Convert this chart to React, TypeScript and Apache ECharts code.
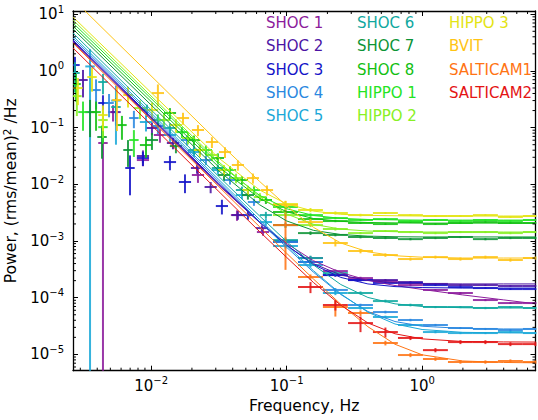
import React, { useEffect, useRef } from 'react';
import * as echarts from 'echarts';

const NAMES = ['SHOC 1', 'SHOC 2', 'SHOC 3', 'SHOC 4', 'SHOC 5', 'SHOC 6', 'SHOC 7', 'SHOC 8', 'HIPPO 1', 'HIPPO 2', 'HIPPO 3', 'BVIT', 'SALTICAM1', 'SALTICAM2'];
const COLORS = ['#8c1c9c', '#4c14a4', '#1414c8', '#2a88e0', '#1aa8d8', '#10a8a0', '#0c9436', '#12c012', '#24e424', '#88f024', '#e4e414', '#ffc414', '#ff7414', '#e41414'];

const X_MIN = 0.00265;
const X_MAX = 6.87;
const Y_MIN = 5.16e-6;
const Y_MAX = 11.4;

const MINOR_X = [0.003, 0.004, 0.005, 0.006, 0.007, 0.008, 0.009, 0.02, 0.03, 0.04, 0.05, 0.06, 0.07, 0.08, 0.09, 0.2, 0.3, 0.4, 0.5, 0.6, 0.7, 0.8, 0.9, 2, 3, 4, 5, 6];
const MINOR_Y = [6e-6, 7e-6, 8e-6, 9e-6, 2e-5, 3e-5, 4e-5, 5e-5, 6e-5, 7e-5, 8e-5, 9e-5, 2e-4, 3e-4, 4e-4, 5e-4, 6e-4, 7e-4, 8e-4, 9e-4, 0.002, 0.003, 0.004, 0.005, 0.006, 0.007, 0.008, 0.009, 0.02, 0.03, 0.04, 0.05, 0.06, 0.07, 0.08, 0.09, 0.2, 0.3, 0.4, 0.5, 0.6, 0.7, 0.8, 0.9, 2, 3, 4, 5, 6, 7, 8, 9];

// model curves: frequency grid and power values per instrument
const MODEL_F = [0.00265, 0.0316, 0.0631, 0.1, 0.158, 0.251, 0.398, 0.631, 1.0, 1.995, 3.98, 6.92];
const SHOC1_MODEL = [3.24, 0.0096, 0.00214, 0.000904, 0.000449, 0.000278, 0.000203, 0.000164, 0.00014, 0.000112, 9.16e-5, 7.8e-5];
const SHOC2_MODEL = [3.37, 0.00991, 0.00213, 0.000836, 0.000399, 0.000251, 0.000201, 0.000184, 0.000177, 0.000175, 0.000175, 0.000175];
const SHOC3_MODEL = [3.51, 0.01033, 0.00219, 0.000843, 0.000382, 0.000228, 0.000175, 0.000157, 0.000151, 0.000148, 0.000148, 0.000148];
const SHOC4_MODEL = [3.8, 0.01119, 0.00221, 0.000776, 0.000281, 0.000114, 5.71e-5, 3.8e-5, 3.14e-5, 2.87e-5, 2.81e-5, 2.81e-5];
const SHOC5_MODEL = [4.13, 0.01216, 0.0024, 0.000838, 0.000299, 0.000117, 5.55e-5, 3.44e-5, 2.75e-5, 2.45e-5, 2.4e-5, 2.38e-5];
const SHOC6_MODEL = [4.66, 0.01371, 0.00277, 0.000982, 0.000378, 0.000171, 0.000101, 7.8e-5, 7.0e-5, 6.65e-5, 6.58e-5, 6.58e-5];
const SHOC7_MODEL = [5.48, 0.0173, 0.00437, 0.00226, 0.00154, 0.0013, 0.00122, 0.00119, 0.00118, 0.00118, 0.00118, 0.00118];
const SHOC8_MODEL = [6.19, 0.0202, 0.00566, 0.00328, 0.00249, 0.00222, 0.00212, 0.00209, 0.00207, 0.00207, 0.00207, 0.00207];
const HIPPO1_MODEL = [7.0, 0.0229, 0.0064, 0.00371, 0.00282, 0.00251, 0.0024, 0.00236, 0.00234, 0.00234, 0.00234, 0.00234];
const HIPPO2_MODEL = [7.91, 0.0248, 0.00604, 0.003, 0.00197, 0.00162, 0.0015, 0.00146, 0.00144, 0.00144, 0.00144, 0.00144];
const HIPPO3_MODEL = [8.93, 0.029, 0.00796, 0.00451, 0.00337, 0.00296, 0.00283, 0.00279, 0.00276, 0.00276, 0.00276, 0.00276];
const BVIT_MODEL = [18.5, 0.0546, 0.01127, 0.00417, 0.00174, 0.000923, 0.000643, 0.00055, 0.000518, 0.000501, 0.000501, 0.000501];
const SALT1_MODEL = [3.09, 0.0091, 0.00179, 0.000608, 0.000213, 7.67e-5, 3.08e-5, 1.51e-5, 9.84e-6, 7.66e-6, 7.21e-6, 7.11e-6];
const SALT2_MODEL = [2.54, 0.00746, 0.00147, 0.000515, 0.000185, 7.38e-5, 3.59e-5, 2.31e-5, 1.88e-5, 1.69e-5, 1.66e-5, 1.65e-5];

// data points: [frequency Hz, bin half-width (dex), power, 1-sigma error]
const SHOC1_PTS = [
  [0.00441, 0.035, 0.0535, 0.056], [0.00523, 0.035, 0.188, 0.06], [0.0087, 0.045, 0.0268, 0.006],
  [0.01161, 0.045, 0.0741, 0.02], [0.02216, 0.045, 0.0146, 0.004], [0.043, 0.045, 0.00287, 0.0006],
  [0.0669, 0.045, 0.00144, 0.0002], [0.15, 0.092, 0.000501, 4e-5], [0.229, 0.092, 0.000295, 2e-5],
  [0.351, 0.092, 0.000222, 1.2e-5], [0.536, 0.092, 0.000197, 9e-6], [0.82, 0.092, 0.000167, 7e-6],
  [1.254, 0.092, 0.000137, 5e-6], [1.918, 0.092, 0.000121, 5e-6], [2.932, 0.092, 9.1e-5, 4e-6],
  [4.485, 0.092, 8.05e-5, 3e-6], [6.86, 0.092, 8.05e-5, 3e-6],
];
const SHOC2_PTS = [
  [0.00314, 0.035, 0.691, 0.35], [0.0055, 0.035, 0.188, 0.08], [0.0087, 0.045, 0.0316, 0.008],
  [0.01014, 0.045, 0.0985, 0.025], [0.01449, 0.045, 0.0535, 0.012], [0.0218, 0.045, 0.0194, 0.004],
  [0.0275, 0.045, 0.00896, 0.002], [0.0437, 0.045, 0.00287, 0.0005], [0.0657, 0.045, 0.00169, 0.0002],
  [0.0981, 0.092, 0.00096, 8e-5], [0.15, 0.092, 0.000426, 3e-5], [0.229, 0.092, 0.000251, 1.5e-5],
  [0.351, 0.092, 0.000205, 1e-5], [0.536, 0.092, 0.000205, 8e-6], [0.82, 0.092, 0.000189, 7e-6],
  [1.254, 0.092, 0.000175, 6e-6], [1.918, 0.092, 0.000167, 6e-6], [2.932, 0.092, 0.000167, 6e-6],
  [4.485, 0.092, 0.000161, 5e-6], [6.86, 0.092, 0.000161, 5e-6],
];
const SHOC3_PTS = [
  [0.00274, 0.035, 1.27, 0.5], [0.00441, 0.035, 0.272, 0.1], [0.00698, 0.035, 0.0194, 0.013],
  [0.0087, 0.045, 0.0291, 0.008], [0.01377, 0.045, 0.0247, 0.007], [0.01777, 0.045, 0.01098, 0.004],
  [0.0333, 0.045, 0.00414, 0.0012], [0.0518, 0.045, 0.00287, 0.0005], [0.0981, 0.092, 0.001, 9e-5],
  [0.15, 0.092, 0.000426, 3e-5], [0.229, 0.092, 0.000251, 1.5e-5], [0.351, 0.092, 0.000205, 1e-5],
  [0.536, 0.092, 0.000182, 7e-6], [0.82, 0.092, 0.000182, 6e-6], [1.254, 0.092, 0.000167, 6e-6],
  [1.918, 0.092, 0.000154, 5e-6], [2.932, 0.092, 0.000148, 5e-6], [4.485, 0.092, 0.000142, 5e-6],
  [6.86, 0.092, 0.000142, 5e-6],
];
const SHOC4_PTS = [
  [0.00392, 0.035, 0.46, 0.25], [0.00489, 0.035, 0.272, 0.12], [0.00746, 0.035, 0.1476, 0.05],
  [0.01122, 0.045, 0.1067, 0.03], [0.01838, 0.045, 0.0604, 0.012], [0.02537, 0.045, 0.0268, 0.005],
  [0.0382, 0.045, 0.0119, 0.002], [0.0574, 0.045, 0.00487, 0.0007], [0.0981, 0.092, 0.00096, 9e-5],
  [0.15, 0.092, 0.000426, 4e-5], [0.229, 0.092, 0.000137, 1.1e-5], [0.351, 0.092, 7.43e-5, 4e-6],
  [0.536, 0.092, 5.59e-5, 3e-6], [0.82, 0.092, 4.04e-5, 2e-6], [1.254, 0.092, 3.3e-5, 1.5e-6],
  [1.918, 0.092, 2.92e-5, 1.2e-6], [2.932, 0.092, 2.81e-5, 1.2e-6], [4.485, 0.092, 2.69e-5, 1e-6],
  [6.86, 0.092, 2.81e-5, 1e-6],
];
const SHOC5_PTS = [
  [0.00354, 0.035, 1.2, 1.22], [0.0055, 0.035, 0.3, 0.25], [0.00916, 0.045, 0.1255, 0.04],
  [0.01377, 0.045, 0.0741, 0.018], [0.0207, 0.045, 0.0371, 0.007], [0.0311, 0.045, 0.0179, 0.003],
  [0.0468, 0.045, 0.00647, 0.001], [0.0703, 0.045, 0.00216, 0.0003], [0.0981, 0.092, 0.000817, 8e-5],
  [0.15, 0.092, 0.000377, 3.5e-5], [0.229, 0.092, 0.000121, 1e-5], [0.351, 0.092, 6.58e-5, 4e-6],
  [0.536, 0.092, 4.57e-5, 2.5e-6], [0.82, 0.092, 3.3e-5, 1.6e-6], [1.254, 0.092, 2.48e-5, 1.2e-6],
  [1.918, 0.092, 2.38e-5, 1e-6], [2.932, 0.092, 2.38e-5, 1e-6], [4.485, 0.092, 2.48e-5, 1e-6],
  [6.86, 0.092, 2.38e-5, 1e-6],
];
const SHOC6_PTS = [
  [0.00274, 0.035, 0.918, 0.5], [0.00441, 0.035, 0.637, 0.25], [0.0055, 0.035, 0.231, 0.1],
  [0.00931, 0.045, 0.204, 0.05], [0.01377, 0.045, 0.0985, 0.02], [0.0207, 0.045, 0.0403, 0.008],
  [0.0311, 0.045, 0.0194, 0.003], [0.0468, 0.045, 0.00793, 0.0012], [0.0703, 0.045, 0.00287, 0.0004],
  [0.0981, 0.092, 0.00104, 0.00012], [0.15, 0.092, 0.000501, 5e-5], [0.229, 0.092, 0.000272, 2.5e-5],
  [0.351, 0.092, 0.000121, 8e-6], [0.536, 0.092, 8.73e-5, 5e-6], [0.82, 0.092, 7.43e-5, 4e-6],
  [1.254, 0.092, 6.85e-5, 3e-6], [1.918, 0.092, 6.85e-5, 3e-6], [2.932, 0.092, 6.58e-5, 3e-6],
  [4.485, 0.092, 6.85e-5, 3e-6], [6.86, 0.092, 6.58e-5, 3e-6],
];
const SHOC7_PTS = [
  [0.00354, 0.035, 0.188, 0.12], [0.00434, 0.035, 0.0683, 0.04], [0.00675, 0.035, 0.0403, 0.02],
  [0.01014, 0.045, 0.0604, 0.02], [0.01524, 0.045, 0.0473, 0.012], [0.0229, 0.045, 0.0403, 0.008],
  [0.0345, 0.045, 0.0146, 0.003], [0.0518, 0.045, 0.00647, 0.0011], [0.0981, 0.092, 0.00191, 0.0002],
  [0.15, 0.092, 0.00138, 1e-4], [0.229, 0.092, 0.00128, 7e-5], [0.351, 0.092, 0.001176, 6e-5],
  [0.536, 0.092, 0.00113, 5e-5], [0.82, 0.092, 0.00108, 5e-5], [1.254, 0.092, 0.00113, 5e-5],
  [1.918, 0.092, 0.001176, 5e-5], [2.932, 0.092, 0.00108, 5e-5], [4.485, 0.092, 0.00113, 5e-5],
  [6.86, 0.092, 0.00113, 5e-5],
];
const SHOC8_PTS = [
  [0.00279, 0.035, 0.587, 0.3], [0.00392, 0.035, 0.188, 0.1], [0.00609, 0.035, 0.111, 0.05],
  [0.00916, 0.045, 0.0493, 0.02], [0.01377, 0.045, 0.181, 0.04], [0.0207, 0.045, 0.0604, 0.012],
  [0.0311, 0.045, 0.0291, 0.006], [0.0468, 0.045, 0.0119, 0.002], [0.0703, 0.045, 0.00529, 0.0008],
  [0.0981, 0.092, 0.00325, 0.0003], [0.15, 0.092, 0.00244, 0.00015], [0.229, 0.092, 0.00225, 1e-4],
  [0.351, 0.092, 0.00208, 8e-5], [0.536, 0.092, 0.00199, 7e-5], [0.82, 0.092, 0.00216, 7e-5],
  [1.254, 0.092, 0.00199, 7e-5], [1.918, 0.092, 0.00208, 7e-5], [2.932, 0.092, 0.00216, 7e-5],
  [4.485, 0.092, 0.00208, 7e-5], [6.86, 0.092, 0.00208, 7e-5],
];
const HIPPO1_PTS = [
  [0.00314, 0.035, 0.188, 0.1], [0.00441, 0.035, 0.102, 0.05], [0.00746, 0.035, 0.0604, 0.03],
  [0.01122, 0.045, 0.136, 0.035], [0.01688, 0.045, 0.0835, 0.018], [0.02537, 0.045, 0.0403, 0.008],
  [0.0382, 0.045, 0.0179, 0.003], [0.0574, 0.045, 0.00793, 0.0013], [0.0981, 0.092, 0.00398, 0.0004],
  [0.15, 0.092, 0.00287, 0.0002], [0.229, 0.092, 0.00254, 1.2e-4], [0.351, 0.092, 0.00235, 1e-4],
  [0.536, 0.092, 0.00244, 8e-5], [0.82, 0.092, 0.00225, 8e-5], [1.254, 0.092, 0.00235, 8e-5],
  [1.918, 0.092, 0.00225, 8e-5], [2.932, 0.092, 0.00235, 8e-5], [4.485, 0.092, 0.00225, 8e-5],
  [6.86, 0.092, 0.00235, 8e-5],
];
const HIPPO2_PTS = [
  [0.00283, 0.035, 0.36, 0.2], [0.00441, 0.035, 0.136, 0.07], [0.00827, 0.045, 0.221, 0.08],
  [0.01243, 0.045, 0.136, 0.04], [0.0187, 0.045, 0.0656, 0.015], [0.0281, 0.045, 0.0329, 0.007],
  [0.0423, 0.045, 0.0129, 0.0025], [0.0635, 0.045, 0.00597, 0.001], [0.0981, 0.092, 0.00287, 0.0003],
  [0.15, 0.092, 0.00191, 0.00015], [0.229, 0.092, 0.00163, 1e-4], [0.351, 0.092, 0.00138, 6e-5],
  [0.536, 0.092, 0.0015, 6e-5], [0.82, 0.092, 0.00144, 6e-5], [1.254, 0.092, 0.00138, 6e-5],
  [1.918, 0.092, 0.00144, 6e-5], [2.932, 0.092, 0.00144, 6e-5], [4.485, 0.092, 0.00138, 6e-5],
  [6.86, 0.092, 0.00144, 6e-5],
];
const HIPPO3_PTS = [
  [0.00288, 0.035, 0.499, 0.25], [0.00366, 0.035, 0.78, 0.35], [0.00441, 0.035, 0.1667, 0.08],
  [0.00675, 0.035, 0.376, 0.15], [0.01014, 0.045, 0.204, 0.07], [0.01524, 0.045, 0.111, 0.03],
  [0.0229, 0.045, 0.0403, 0.01], [0.0345, 0.045, 0.0179, 0.004], [0.0518, 0.045, 0.00793, 0.0015],
  [0.0981, 0.092, 0.00449, 0.0006], [0.15, 0.092, 0.00352, 0.0003], [0.229, 0.092, 0.00312, 0.0002],
  [0.351, 0.092, 0.00287, 0.00015], [0.536, 0.092, 0.00312, 0.00012], [0.82, 0.092, 0.00287, 1e-4],
  [1.254, 0.092, 0.00276, 1e-4], [1.918, 0.092, 0.00276, 1e-4], [2.932, 0.092, 0.00287, 1e-4],
  [4.485, 0.092, 0.00265, 1e-4], [6.86, 0.092, 0.00276, 1e-4],
];
const BVIT_PTS = [
  [0.00559, 0.035, 0.307, 0.22], [0.01122, 0.045, 0.407, 0.17], [0.01718, 0.045, 0.1476, 0.035],
  [0.02216, 0.045, 0.0907, 0.02], [0.0281, 0.045, 0.0557, 0.012], [0.0351, 0.045, 0.0371, 0.008],
  [0.0437, 0.045, 0.0219, 0.0045], [0.0564, 0.045, 0.0129, 0.0026], [0.0716, 0.045, 0.00793, 0.0016],
  [0.0981, 0.092, 0.00431, 0.0008], [0.15, 0.092, 0.00216, 0.0003], [0.229, 0.092, 0.000922, 0.00012],
  [0.351, 0.092, 0.000666, 6e-5], [0.536, 0.092, 0.000566, 4e-5], [0.82, 0.092, 0.000481, 3e-5],
  [1.254, 0.092, 0.000521, 3e-5], [1.918, 0.092, 0.000481, 3e-5], [2.932, 0.092, 0.000521, 3e-5],
  [4.485, 0.092, 0.000462, 3e-5], [6.86, 0.092, 0.000501, 3e-5],
];
const SALT1_PTS = [
  [0.0981, 0.092, 0.00191, 0.0016], [0.15, 0.092, 0.000232, 2.5e-5], [0.229, 0.092, 6.85e-5, 2.2e-5],
  [0.351, 0.092, 5.37e-5, 6e-6], [0.536, 0.092, 1.59e-5, 1.5e-6], [0.82, 0.092, 9.75e-6, 8e-7],
  [1.254, 0.092, 8.3e-6, 6e-7], [1.918, 0.092, 7.35e-6, 5e-7], [2.932, 0.092, 7.35e-6, 5e-7],
  [4.485, 0.092, 7.66e-6, 5e-7], [6.86, 0.092, 7.35e-6, 5e-7],
];
const SALT2_PTS = [
  [0.15, 0.092, 1.545e-4, 3.4e-5], [0.229, 0.092, 7.43e-5, 1.5e-5], [0.351, 0.092, 3.57e-5, 1.1e-5],
  [0.536, 0.092, 2.48e-5, 5e-6], [0.82, 0.092, 1.95e-5, 1.6e-6], [1.254, 0.092, 1.19e-5, 1e-6],
  [1.918, 0.092, 1.65e-5, 1.3e-6], [2.932, 0.092, 1.65e-5, 1.3e-6], [4.485, 0.092, 1.52e-5, 1.2e-6],
  [6.86, 0.092, 1.52e-5, 1.2e-6],
];

const ALL_PTS = [SHOC1_PTS, SHOC2_PTS, SHOC3_PTS, SHOC4_PTS, SHOC5_PTS, SHOC6_PTS, SHOC7_PTS, SHOC8_PTS, HIPPO1_PTS, HIPPO2_PTS, HIPPO3_PTS, BVIT_PTS, SALT1_PTS, SALT2_PTS];
const ALL_MODELS = [SHOC1_MODEL, SHOC2_MODEL, SHOC3_MODEL, SHOC4_MODEL, SHOC5_MODEL, SHOC6_MODEL, SHOC7_MODEL, SHOC8_MODEL, HIPPO1_MODEL, HIPPO2_MODEL, HIPPO3_MODEL, BVIT_MODEL, SALT1_MODEL, SALT2_MODEL];

const FONT = 'DejaVu Sans';

function powLabel(v: number) {
  const l = Math.log10(v);
  const e = Math.round(l);
  if (Math.abs(l - e) > 0.01) return '';
  const s = e < 0 ? '\u2212' + Math.abs(e) : String(e);
  return '{b|10}{s|' + s + '}';
}

const LABEL_RICH = {
  b: { fontSize: 15, fontFamily: FONT, color: '#000', lineHeight: 20 },
  s: { fontSize: 10, fontFamily: FONT, color: '#000', lineHeight: 8, verticalAlign: 'top' },
};

function crossRenderer(color: string) {
  return (params: any, api: any) => {
    const f = api.value(0);
    const hw = api.value(1);
    const p = api.value(2);
    const e = api.value(3);
    const k = Math.pow(10, hw);
    const left = Math.max(f / k, X_MIN);
    const right = Math.min(f * k, X_MAX);
    const lo = Math.max(p - e, Y_MIN);
    const hi = Math.min(p + e, Y_MAX);
    const a = api.coord([left, p]);
    const b = api.coord([right, p]);
    const style = { stroke: color, lineWidth: 2, opacity: 0.88 };
    const children: any[] = [
      { type: 'line', shape: { x1: a[0], y1: a[1], x2: b[0], y2: b[1] }, style },
    ];
    if (f >= X_MIN && f <= X_MAX) {
      const c = api.coord([f, lo]);
      const d = api.coord([f, hi]);
      children.push({ type: 'line', shape: { x1: c[0], y1: c[1], x2: d[0], y2: d[1] }, style });
    }
    return { type: 'group', children };
  };
}

function minorXRenderer(params: any, api: any) {
  const cs = params.coordSys;
  const p = api.coord([api.value(0), api.value(1)]);
  const st = { stroke: '#000', lineWidth: 1 };
  const bottom = cs.y + cs.height;
  return {
    type: 'group',
    children: [
      { type: 'line', shape: { x1: p[0], y1: bottom, x2: p[0], y2: bottom - 3 }, style: st },
      { type: 'line', shape: { x1: p[0], y1: cs.y, x2: p[0], y2: cs.y + 3 }, style: st },
    ],
  };
}

function minorYRenderer(params: any, api: any) {
  const cs = params.coordSys;
  const p = api.coord([api.value(0), api.value(1)]);
  const st = { stroke: '#000', lineWidth: 1 };
  const right = cs.x + cs.width;
  return {
    type: 'group',
    children: [
      { type: 'line', shape: { x1: cs.x, y1: p[1], x2: cs.x + 3, y2: p[1] }, style: st },
      { type: 'line', shape: { x1: right, y1: p[1], x2: right - 3, y2: p[1] }, style: st },
    ],
  };
}

export default function App() {
  const ref = useRef<HTMLDivElement>(null);
  useEffect(() => {
    if (!ref.current) return;
    const chart = echarts.init(ref.current, null, { renderer: 'svg' });

    const axisLine = { show: true, onZero: false, lineStyle: { color: '#000', width: 1.3 } };
    const axisTick = { show: true, inside: true, length: 5, lineStyle: { color: '#000', width: 1 } };

    const series: any[] = [];
    ALL_PTS.forEach((pts, i) => {
      series.push({
        type: 'custom',
        name: NAMES[i],
        silent: true,
        dimensions: ['f', 'hw', 'p', 'e'],
        encode: { x: 'f', y: 'p' },
        data: pts,
        renderItem: crossRenderer(COLORS[i]),
        z: 2,
      });
    });
    ALL_MODELS.forEach((m, i) => {
      series.push({
        type: 'line',
        name: NAMES[i] + ' model',
        silent: true,
        showSymbol: false,
        data: MODEL_F.map((f, j) => [f, m[j]]),
        lineStyle: { color: COLORS[i], width: 1 },
        z: 3,
      });
    });
    series.push({
      type: 'custom',
      silent: true,
      data: MINOR_X.map((v) => [v, Y_MIN]),
      encode: { x: 0, y: 1 },
      renderItem: minorXRenderer,
      z: 5,
    });
    series.push({
      type: 'custom',
      silent: true,
      data: MINOR_Y.map((v) => [X_MIN, v]),
      encode: { x: 0, y: 1 },
      renderItem: minorYRenderer,
      z: 5,
    });

    const legendCols = [266, 357, 449];
    const graphic: any[] = NAMES.map((n, i) => ({
      type: 'text',
      x: legendCols[Math.floor(i / 5)],
      y: 23.3 + (i % 5) * 23.1,
      silent: true,
      style: {
        text: n,
        fill: COLORS[i],
        fontSize: 15,
        fontFamily: FONT,
        verticalAlign: 'middle',
        textVerticalAlign: 'middle',
      },
      z: 10,
    }));

    chart.setOption({
      animation: false,
      backgroundColor: '#fff',
      grid: { left: 73, right: 2.5, top: 11, bottom: 49.3, containLabel: false, outerBoundsMode: 'none' },
      xAxis: [
        {
          type: 'log', logBase: 10, min: X_MIN, max: X_MAX, position: 'bottom',
          axisLine, axisTick,
          splitLine: { show: false },
          axisLabel: { formatter: powLabel, rich: LABEL_RICH, margin: 5, color: '#000' },
          name: 'Frequency, Hz', nameLocation: 'middle', nameGap: 26,
          nameTextStyle: { fontSize: 15.6, fontFamily: FONT, color: '#000' },
        },
        {
          type: 'log', logBase: 10, min: X_MIN, max: X_MAX, position: 'top',
          axisLine, axisTick, splitLine: { show: false }, axisLabel: { show: false },
        },
      ],
      yAxis: [
        {
          type: 'log', logBase: 10, min: Y_MIN, max: Y_MAX, position: 'left',
          axisLine, axisTick,
          splitLine: { show: false },
          axisLabel: { formatter: powLabel, rich: LABEL_RICH, margin: 9, color: '#000' },
          name: '{a|Power, (rms/mean)}{s|2}{a| /Hz}', nameLocation: 'middle', nameGap: 46,
          nameTextStyle: {
            fontSize: 15.6, fontFamily: FONT, color: '#000',
            rich: {
              a: { fontSize: 15.6, fontFamily: FONT, color: '#000', lineHeight: 20 },
              s: { fontSize: 10.5, fontFamily: FONT, color: '#000', lineHeight: 8, verticalAlign: 'top' },
            },
          },
        },
        {
          type: 'log', logBase: 10, min: Y_MIN, max: Y_MAX, position: 'right',
          axisLine, axisTick, splitLine: { show: false }, axisLabel: { show: false },
        },
      ],
      series,
      graphic,
    });
    return () => chart.dispose();
  }, []);
  return <div ref={ref} style={{ position: 'absolute', left: 0, top: 0, width: 538, height: 420 }} />;
}
